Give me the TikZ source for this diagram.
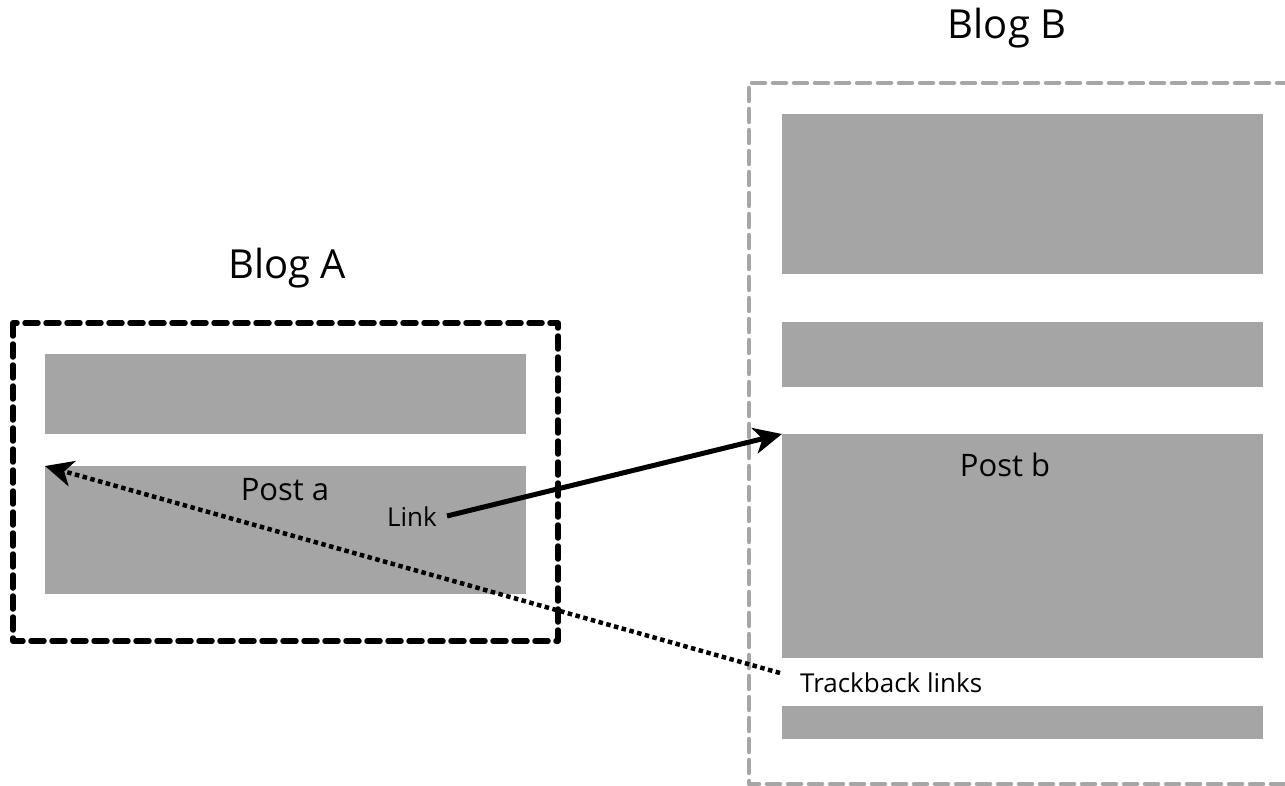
\documentclass[tikz,border=0pt]{standalone}
\usepackage{fontspec}
\setmainfont{Open Sans}
\usetikzlibrary{arrows.meta}
\definecolor{blockgray}{HTML}{A5A5A5}
\definecolor{bordergray}{HTML}{A6A6A6}
\tikzset{
  block/.style={fill=blockgray, draw=none, inner sep=0pt, anchor=north west},
  darkframe/.style={draw=black, line width=5.5pt, dash pattern=on 13pt off 8pt, line cap=round, line join=round},
  lightframe/.style={draw=bordergray, line width=4.5pt, dash pattern=on 13pt off 8pt, line cap=round, line join=round},
  lbl/.style={inner sep=0pt, text=black},
  linkarrow/.style={line width=5pt, -{Stealth[length=28pt,width=26pt,inset=8pt]}},
  tbarrow/.style={line width=4.5pt, dash pattern=on 4.5pt off 3.5pt, -{Stealth[length=28pt,width=26pt,inset=8pt]}},
}
\begin{document}
\begin{tikzpicture}[x=1pt,y=-1pt]
\useasboundingbox (0,0) rectangle (1285,786);
% Blog A
\node[lbl, font=\fontsize{40}{46}\selectfont] (labA) at (287,268) {Blog A};
\draw[darkframe] (13,323) rectangle (558,641);
\node[block, minimum width=481pt, minimum height=80pt] (a1) at (45,354) {};
\node[block, minimum width=481pt, minimum height=128pt] (pa) at (45,466) {};
\node[lbl, font=\fontsize{31}{36}\selectfont] (posta) at (285,490) {Post a};
\node[lbl, font=\fontsize{26}{30}\selectfont, anchor=east] (link) at (437,517) {Link};
% Blog B
\node[lbl, font=\fontsize{40}{46}\selectfont] (labB) at (1007,28) {Blog B};
\draw[lightframe] (1290,83) -- (749,83) -- (749,784) -- (1290,784);
\node[block, minimum width=481pt, minimum height=160pt] (b1) at (782,114) {};
\node[block, minimum width=481pt, minimum height=65pt] (b2) at (782,322) {};
\node[block, minimum width=481pt, minimum height=224pt] (pb) at (782,434) {};
\node[block, minimum width=481pt, minimum height=33pt] (b4) at (782,706) {};
\node[lbl, font=\fontsize{31}{36}\selectfont] (postb) at (1005,465) {Post b};
\node[lbl, font=\fontsize{26}{30}\selectfont, anchor=west] (tb) at (800,683) {Trackback links};
% arrows
\draw[linkarrow] (link.east) ++(10,-1) coordinate (ls) (ls) -- (pb.north west);
\draw[tbarrow] (tb.west) ++(-20,-10) coordinate (ts) (ts) -- (pa.north west);
\end{tikzpicture}
\end{document}
